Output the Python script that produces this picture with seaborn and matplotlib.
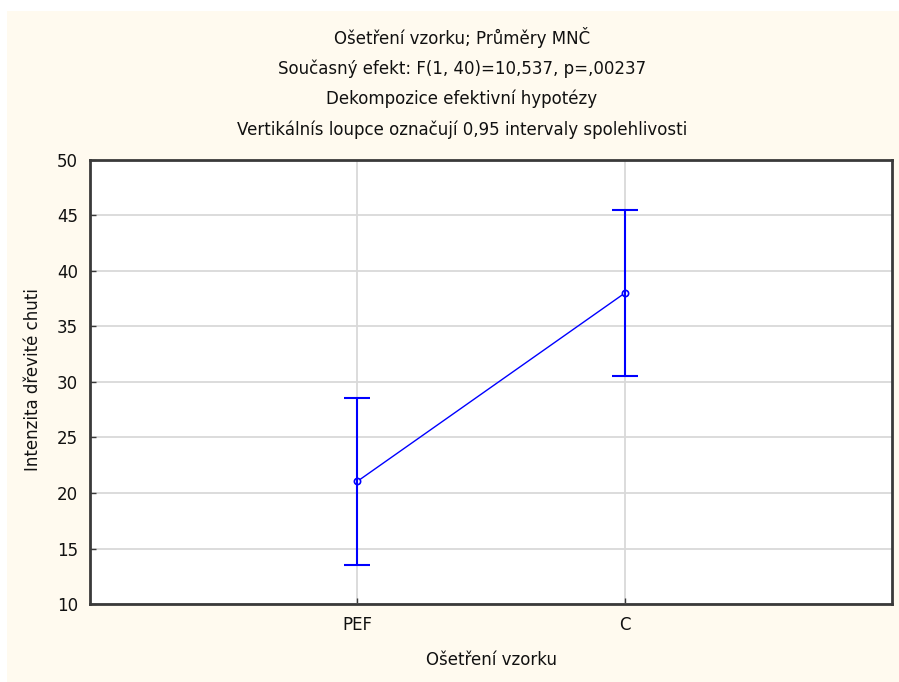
import matplotlib
matplotlib.use("Agg")
import matplotlib.pyplot as plt
import seaborn as sns
import pandas as pd
from matplotlib.patches import Rectangle

categories = ["PEF", "C"]
means = [21.05, 38.0]
ci_low = [13.55, 30.5]
ci_high = [28.55, 45.5]
yticks = [10, 15, 20, 25, 30, 35, 40, 45, 50]
title_lines = [
    "Ošetření vzorku; Průměry MNČ",
    "Současný efekt: F(1, 40)=10,537, p=,00237",
    "Dekompozice efektivní hypotézy",
    "Vertikálnís loupce označují 0,95 intervaly spolehlivosti",
]
xlabel = "Ošetření vzorku"
ylabel = "Intenzita dřevité chuti"

sns.set_style("white")
plt.rcParams["font.family"] = ["DejaVu Sans"]

df = pd.DataFrame({"cat": categories, "mean": means, "lo": ci_low, "hi": ci_high})

W, H = 899, 682
fig = plt.figure(figsize=(W / 100, H / 100), dpi=100, facecolor="white")
fig.patches.append(Rectangle((7 / W, 0), 1 - 7 / W, 1 - 11 / H,
                             transform=fig.transFigure, facecolor="#fffaef",
                             edgecolor="none", zorder=-10))
ax_l, ax_r, ax_t, ax_b = 90, 892, 160, 604
ax = fig.add_axes([ax_l / W, 1 - ax_b / H, (ax_r - ax_l) / W, (ax_b - ax_t) / H])
ax.set_facecolor("white")

blue = "#0000ff"
sns.pointplot(data=df, x="cat", y="mean", errorbar=None, color=blue,
              markers="o", linestyles="-", ax=ax,
              markersize=4.5, linewidth=1.0,
              markerfacecolor="white", markeredgecolor=blue, markeredgewidth=1.2)
x = list(range(len(categories)))
ax.errorbar(x, df["mean"],
            yerr=[df["mean"] - df["lo"], df["hi"] - df["mean"]],
            fmt="none", ecolor=blue, elinewidth=1.5, capsize=9.7, capthick=1.5, zorder=3)

ax.set_xlim(-1, 2)
ax.set_ylim(10, 50)
ax.set_yticks(yticks)
ax.set_xticks(x)
ax.set_xticklabels(categories)
ax.grid(True, color="#d9d9d9", linewidth=1.3)
ax.set_axisbelow(True)
for s in ax.spines.values():
    s.set_color("#3a3a3a")
    s.set_linewidth(2)
ax.tick_params(axis="both", direction="in", length=4, width=1, color="#3a3a3a",
               labelsize=12, labelcolor="#111111", left=True, bottom=True)
ax.tick_params(axis="y", pad=8.5)
ax.tick_params(axis="x", pad=9)
ax.set_xlabel(xlabel, fontsize=12, color="#111111", va="center")
ax.set_ylabel(ylabel, fontsize=12, color="#111111", va="center")
ax.xaxis.set_label_coords(0.5, (ax_b - 660) / (ax_b - ax_t))
ax.yaxis.set_label_coords((33 - ax_l) / (ax_r - ax_l), (ax_b - 380) / (ax_b - ax_t))

ys = [37, 69, 99, 130]
for t, y in zip(title_lines, ys):
    fig.text(462 / W, 1 - y / H, t, ha="center", va="center", fontsize=12, color="#111111")

fig.savefig("out.png", dpi=100, facecolor=fig.get_facecolor())
